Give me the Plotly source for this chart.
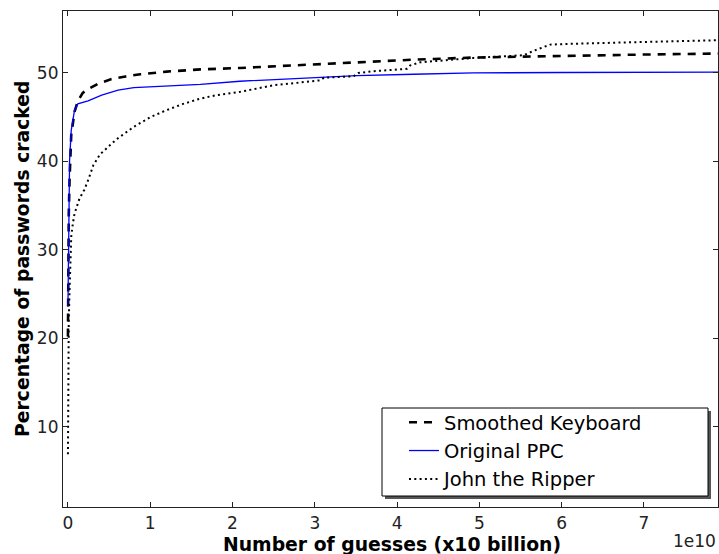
import plotly.graph_objects as go

# Guesses are expressed in units of 1e10 (ten billion)
kb_guesses = [0, 0.003, 0.01, 0.02, 0.04, 0.08, 0.12, 0.18, 0.25, 0.37, 0.53, 0.7,
              0.88, 1.2, 1.61, 2.09, 2.8, 3.51, 4.2, 4.93, 5.5, 6.15, 7.0, 7.9]
kb_cracked = [20.2, 28.0, 34.0, 38.0, 43.0, 45.6, 46.8, 47.75, 48.2, 48.8, 49.3, 49.6,
              49.85, 50.15, 50.4, 50.56, 50.9, 51.24, 51.5, 51.74, 51.85, 51.95, 52.08, 52.19]

ppc_guesses = [0, 0.005, 0.01, 0.02, 0.04, 0.08, 0.12, 0.18, 0.245, 0.41, 0.61, 0.8,
               1.2, 1.61, 2.09, 2.8, 3.51, 4.2, 4.93, 6.0, 7.0, 7.9]
ppc_cracked = [23.6, 30.0, 35.6, 40.1, 43.5, 45.8, 46.5, 46.7, 46.85, 47.5, 48.05, 48.35,
               48.5, 48.7, 49.06, 49.4, 49.7, 49.85, 50.0, 50.05, 50.08, 50.1]

jtr_guesses = [0, 0.003, 0.006, 0.01, 0.02, 0.03, 0.04, 0.06, 0.08, 0.14, 0.2, 0.25,
               0.31, 0.39, 0.49, 0.59, 0.8, 1.0, 1.2, 1.4, 1.61, 1.81, 2.09, 2.3, 2.5, 2.7,
               3.07, 3.11, 3.47, 3.53, 3.72, 4.12, 4.16, 4.28, 4.53, 4.93, 5.54, 5.66,
               5.86, 6.15, 7.0, 7.9]
jtr_cracked = [6.9, 12.0, 18.0, 22.0, 25.5, 29.2, 31.5, 33.0, 34.1, 35.8, 36.8, 38.0,
               39.6, 40.8, 41.7, 42.5, 43.9, 45.0, 45.8, 46.5, 47.1, 47.5, 47.86, 48.24, 48.61, 48.8,
               49.17, 49.47, 49.62, 50.0, 50.2, 50.47, 50.85, 51.2, 51.4, 51.7, 52.0, 52.5,
               53.2, 53.3, 53.5, 53.7]

x_ticks = [0, 1, 2, 3, 4, 5, 6, 7]
y_ticks = [10, 20, 30, 40, 50]

FONT = "DejaVu Sans"
W, H = 719, 554
ML, MR, MT, MB = 63, 1, 11, 47
PW, PH = W - ML - MR, H - MT - MB


def px_x(p):
    return (p - ML) / PW


def px_y(p):
    return (H - MB - p) / PH


fig = go.Figure()
fig.add_trace(go.Scatter(x=kb_guesses, y=kb_cracked, mode="lines", name="Smoothed Keyboard",
                         legendgroup="a",
                         line=dict(color="black", width=2.6, dash="8px,7px")))
fig.add_trace(go.Scatter(x=ppc_guesses, y=ppc_cracked, mode="lines", name="Original PPC",
                         legendgroup="b",
                         line=dict(color="#0000ff", width=1.3)))
fig.add_trace(go.Scatter(x=jtr_guesses, y=jtr_cracked, mode="lines", name="John the Ripper",
                         legendgroup="c",
                         line=dict(color="black", width=2, dash="2px,3.3px")))

# legend frame with drop shadow
lx0, lx1, ly0, ly1 = 382, 708, 408, 496
fig.add_shape(type="rect", xref="paper", yref="paper", layer="above",
              x0=px_x(lx0 + 3), x1=px_x(lx1 + 3), y0=px_y(ly1 + 3), y1=px_y(ly0 + 3),
              fillcolor="#555555", line=dict(width=0))
fig.add_shape(type="rect", xref="paper", yref="paper", layer="above",
              x0=px_x(lx0), x1=px_x(lx1), y0=px_y(ly1), y1=px_y(ly0),
              fillcolor="white", line=dict(color="black", width=1))

axis_common = dict(
    showgrid=False, zeroline=False, showline=True, linecolor="#222222", linewidth=1.2,
    mirror="ticks", ticks="inside", ticklen=5, tickwidth=1, tickcolor="#222222",
    tickfont=dict(family=FONT, size=17, color="#222222"),
)

fig.update_layout(
    width=W, height=H,
    margin=dict(l=ML, r=MR, t=MT, b=MB),
    paper_bgcolor="white", plot_bgcolor="white",
    font=dict(family=FONT),
    xaxis=dict(range=[-0.06, 7.9], tickvals=x_ticks, ticktext=[str(v) for v in x_ticks],
               **axis_common),
    yaxis=dict(range=[0.94, 57.0], tickvals=y_ticks, ticktext=[str(v) for v in y_ticks],
               **axis_common),
    legend=dict(x=px_x(404), y=px_y(403), xanchor="left", yanchor="top",
                bgcolor="rgba(0,0,0,0)", borderwidth=0, traceorder="grouped",
                tracegroupgap=0, itemwidth=30,
                font=dict(family=FONT, size=19.5, color="black")),
    showlegend=True,
)

fig.add_annotation(text="<b>Number of guesses (x10 billion)</b>", xref="paper", yref="paper",
                   x=px_x(392), y=px_y(544), xanchor="center", yanchor="middle",
                   showarrow=False, font=dict(family=FONT, size=18.8, color="black"))
fig.add_annotation(text="<b>Percentage of passwords cracked</b>", xref="paper", yref="paper",
                   x=px_x(22), y=px_y(259), xanchor="center", yanchor="middle",
                   showarrow=False, textangle=-90,
                   font=dict(family=FONT, size=18.8, color="black"))
fig.add_annotation(text="1e10", xref="paper", yref="paper",
                   x=px_x(718), y=px_y(541), xanchor="right", yanchor="middle",
                   showarrow=False, font=dict(family=FONT, size=17, color="#222222"))

fig.write_html("out.html")
